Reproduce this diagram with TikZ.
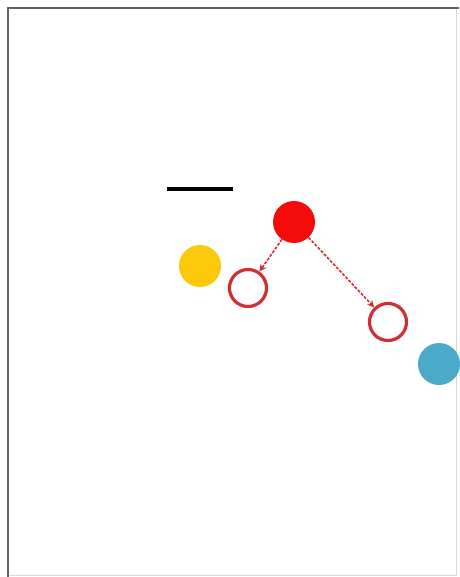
\documentclass[tikz,border=0pt]{standalone}
\usepackage{tikz}
\usepackage{xcolor}
\usetikzlibrary{arrows.meta}
\definecolor{frameg}{RGB}{100,100,100}
\definecolor{dotred}{RGB}{245,10,10}
\definecolor{ringred}{RGB}{210,45,50}
\definecolor{dotgold}{RGB}{252,200,10}
\definecolor{dotblue}{RGB}{75,170,200}

\begin{document}
\begin{tikzpicture}[x=1pt,y=-1pt,
    dot/.style={circle,inner sep=0pt,minimum size=42pt},
    ring/.style={circle,draw=ringred,line width=3.2pt,inner sep=0pt,minimum size=37pt},
    move/.style={draw=ringred,line width=1.6pt,dashed,dash pattern=on 3pt off 1.5pt,-{Stealth[length=7pt,width=7pt]}}]
    \useasboundingbox (0,0) rectangle (459,577);
    % frame
    \draw[frameg!25,line width=1pt] (456,8) -- (456,575) -- (8,575);
    \draw[frameg,line width=2.5pt] (8,577) -- (8,8) -- (459,8);
    % bar
    \draw[black,line width=4pt] (167,189) -- (233,189);
    \node[dot,fill=dotred] (r) at (294,222) {};
    \node[dot,fill=dotgold] (y) at (200,266) {};
    \node[ring] (o1) at (248,288) {};
    \node[ring] (o2) at (388,322) {};
    \node[dot,fill=dotblue] (b) at (439,364) {};
    \draw[move] (r) -- (o1);
    \draw[move] (r) -- (o2);
  \end{tikzpicture}
\end{document}
